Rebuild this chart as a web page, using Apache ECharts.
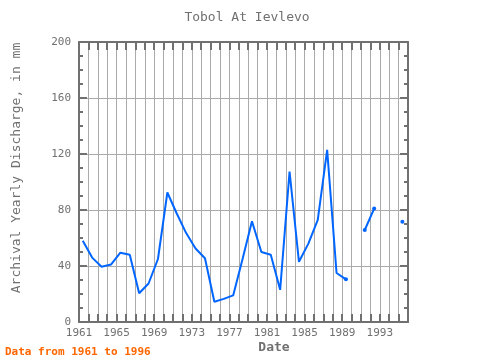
<!DOCTYPE html>
<html>
<head>
<meta charset="utf-8">
<script src="https://cdn.jsdelivr.net/npm/echarts@6/dist/echarts.min.js"></script>
<style>
  html, body { margin: 0; padding: 0; background: #fff; }
  #chart { width: 480px; height: 360px; }
</style>
</head>
<body>
<div id="chart"></div>
<script>
// yearly discharge (null = no data)
var years = [1961, 1962, 1963, 1964, 1965, 1966, 1967, 1968, 1969, 1970,
             1971, 1972, 1973, 1974, 1975, 1976, 1977, 1978, 1979, 1980,
             1981, 1982, 1983, 1984, 1985, 1986, 1987, 1988, 1989, 1990,
             1991, 1992, 1993, 1994, 1995];
var discharge = [58, 46, 39.5, 41, 49.5, 48, 20.5, 27.5, 45, 92.5,
                 77.5, 63.5, 52.5, 45.5, 14.5, 16.5, 19, 45, 72, 50,
                 48, 23, 107.5, 43, 56, 73, 123, 35, 30.5, null,
                 65.7, 81, null, null, 71.6];
var yTicks = [0, 40, 80, 120, 160, 200];
var xLabelYears = [1961, 1965, 1969, 1973, 1977, 1981, 1985, 1989, 1993];

var yearPos = 0.4; // points sit a bit into the year
var gray = '#707070';
var font = 'DejaVu Sans Mono';

var chart = echarts.init(document.getElementById('chart'));

var seriesData = years.map(function (y, i) {
  return [y + yearPos, discharge[i]];
});

// dots only where the line breaks off (not at the very start)
function dotSize(val, p) {
  var i = p.dataIndex;
  if (i === 0 || discharge[i] == null) return 0;
  var prev = discharge[i - 1];
  var next = i < discharge.length - 1 ? discharge[i + 1] : null;
  if (prev == null || next == null) return 4;
  return 0;
}

function xAxisCommon(pos, showLabel) {
  return {
    type: 'value',
    position: pos,
    min: years[0],
    max: 1996,
    interval: 1,
    axisLine: { show: true, onZero: false, lineStyle: { color: gray, width: 2 } },
    axisTick: { show: true, inside: true, length: 8, lineStyle: { color: gray, width: 2 } },
    axisLabel: {
      show: showLabel,
      margin: 6,
      color: gray,
      fontFamily: font,
      fontSize: 11,
      formatter: function (v) {
        return xLabelYears.indexOf(v) >= 0 ? String(v) : '';
      }
    },
    splitLine: { show: showLabel, lineStyle: { color: '#aaaaaa', width: 1 } }
  };
}

function yAxisCommon(pos, showLabel) {
  return {
    type: 'value',
    position: pos,
    min: yTicks[0],
    max: yTicks[yTicks.length - 1],
    interval: 40,
    axisLine: { show: true, lineStyle: { color: gray, width: 2 } },
    axisTick: { show: true, inside: true, length: 8, lineStyle: { color: gray, width: 2 } },
    minorTick: { show: true, splitNumber: 4, length: 4, lineStyle: { color: gray, width: 2 } },
    axisLabel: { show: showLabel, margin: 8, color: gray, fontFamily: font, fontSize: 11 },
    splitLine: { show: showLabel, lineStyle: { color: '#aaaaaa', width: 1 } }
  };
}

var option = {
  animation: false,
  grid: { left: 79, right: 72, top: 42, bottom: 38 },
  xAxis: [xAxisCommon('bottom', true), xAxisCommon('top', false)],
  yAxis: [yAxisCommon('left', true), yAxisCommon('right', false)],
  graphic: [
    {
      type: 'text', x: 247, y: 18,
      style: { text: 'Tobol At Ievlevo', fill: gray, font: '13px "DejaVu Sans Mono"',
               textAlign: 'center', textVerticalAlign: 'middle' }
    },
    {
      type: 'text', x: 17, y: 168, rotation: Math.PI / 2,
      style: { text: 'Archival Yearly Discharge, in mm', fill: gray, font: '13px "DejaVu Sans Mono"',
               textAlign: 'center', textVerticalAlign: 'middle' }
    },
    {
      type: 'text', x: 274, y: 348,
      style: { text: 'Date', fill: gray, font: 'bold 13px "DejaVu Sans Mono"',
               textAlign: 'center', textVerticalAlign: 'middle' }
    },
    {
      type: 'text', x: 5, y: 352,
      style: { text: 'Data from 1961 to 1996', fill: '#ff6600', font: 'bold 11px "DejaVu Sans Mono"',
               textAlign: 'left', textVerticalAlign: 'middle' }
    }
  ],
  series: [
    {
      type: 'line',
      data: seriesData,
      connectNulls: false,
      showSymbol: true,
      showAllSymbol: true,
      symbol: 'circle',
      symbolSize: dotSize,
      itemStyle: { color: '#0066ff' },
      lineStyle: { color: '#0066ff', width: 2 }
    }
  ]
};

chart.setOption(option);
</script>
</body>
</html>
